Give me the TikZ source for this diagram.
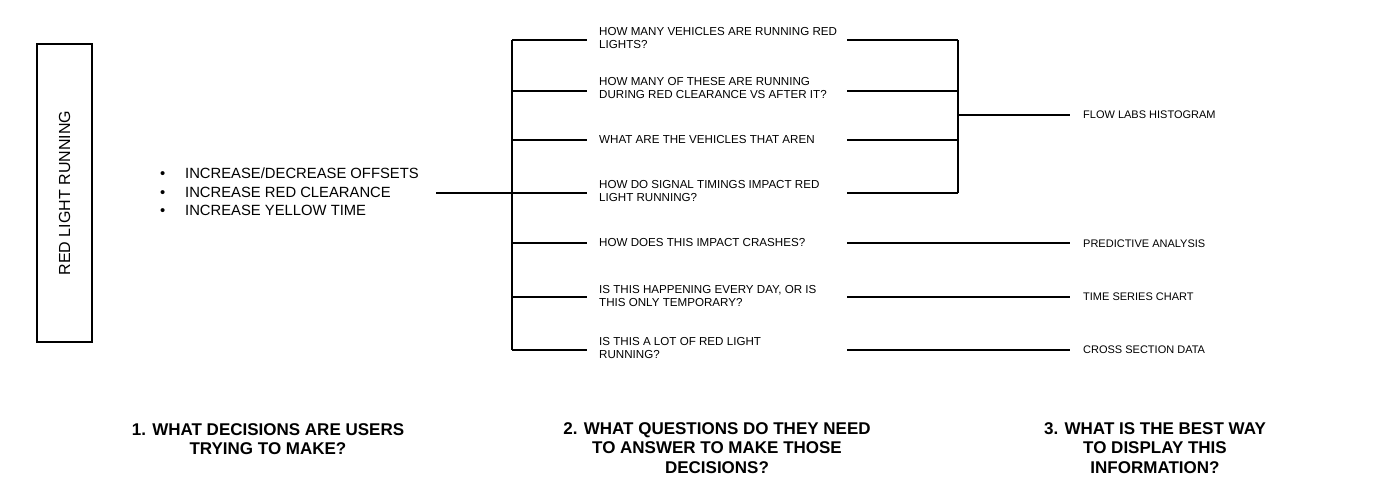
\documentclass[tikz,border=0pt]{standalone}
\usepackage{fontspec}
\setmainfont{Liberation Sans}
\begin{document}
\begin{tikzpicture}[x=1pt,y=-1pt,
  conn/.style={line width=1.2pt,black},
  thickconn/.style={line width=2pt,black},
  qtext/.style={anchor=west,align=left,inner sep=0pt,font=\fontsize{11.6}{13}\selectfont},
  rlabel/.style={anchor=west,inner sep=0pt,font=\fontsize{11}{13}\selectfont},
  heading/.style={align=center,inner sep=0pt,font=\fontsize{17}{19.5}\selectfont\bfseries},
]
\useasboundingbox (0,0) rectangle (1382,493);
% topic box
\node[draw,line width=2pt,rotate=90,minimum width=298,minimum height=55,inner sep=0pt,
      font=\fontsize{16}{18}\selectfont] (topic) at (64.5,193) {RED LIGHT RUNNING};
% decisions
\node[anchor=west,inner sep=0pt,align=left,font=\fontsize{14.8}{18.5}\selectfont] (dec) at (160,192)
  {\makebox[25pt][l]{\textbullet}INCREASE/DECREASE OFFSETS\\
   \makebox[25pt][l]{\textbullet}INCREASE RED CLEARANCE\\
   \makebox[25pt][l]{\textbullet}INCREASE YELLOW TIME};
\coordinate (d1) at (436,193);
\coordinate (tr) at (512,193);
\coordinate (trtop) at (512,40);
\coordinate (trbot) at (512,350);
\draw[thickconn] (d1) -- (tr);
\draw[thickconn] (trtop) -- (trbot);
% questions
\node[qtext] (q1) at (599,38) {HOW MANY VEHICLES ARE RUNNING RED\\LIGHTS?};
\node[qtext] (q2) at (599,88) {HOW MANY OF THESE ARE RUNNING\\DURING RED CLEARANCE VS AFTER IT?};
\node[qtext] (q3) at (599,140) {WHAT ARE THE VEHICLES THAT AREN};
\node[qtext] (q4) at (599,191) {HOW DO SIGNAL TIMINGS IMPACT RED\\LIGHT RUNNING?};
\node[qtext] (q5) at (599,243) {HOW DOES THIS IMPACT CRASHES?};
\node[qtext] (q6) at (599,296) {IS THIS HAPPENING EVERY DAY, OR IS\\THIS ONLY TEMPORARY?};
\node[qtext] (q7) at (599,348) {IS THIS A LOT OF RED LIGHT\\RUNNING?};
% left branches
\foreach \n/\y in {1/40,2/91,3/140,4/193,5/243,6/297,7/350}{
  \coordinate (bl\n) at (512,\y);
  \coordinate (br\n) at (587,\y);
  \coordinate (cl\n) at (847,\y);
  \draw[conn] (bl\n) -- (br\n);
}
% right bracket
\coordinate (rb1) at (958,40);
\coordinate (rb4) at (958,193);
\coordinate (rbm) at (958,115);
\foreach \n/\y in {1/40,2/91,3/140,4/193}{
  \draw[conn] (cl\n) -- (958,\y);
}
\draw[line width=1.6pt] (rb1) -- (rb4);
% answers
\node[rlabel] (a1) at (1083,115) {FLOW LABS HISTOGRAM};
\node[rlabel] (a2) at (1083,244) {PREDICTIVE ANALYSIS};
\node[rlabel] (a3) at (1083,297) {TIME SERIES CHART};
\node[rlabel] (a4) at (1083,350) {CROSS SECTION DATA};
\draw[thickconn] (rbm) -- (1070,115);
\draw[conn] (cl5) -- (1070,243);
\draw[conn] (cl6) -- (1070,297);
\draw[conn] (cl7) -- (1070,350);
% headings
\node[heading] (h1) at (268,439) {1. WHAT DECISIONS ARE USERS\\TRYING TO MAKE?};
\node[heading] (h2) at (717,448) {2. WHAT QUESTIONS DO THEY NEED\\TO ANSWER TO MAKE THOSE\\DECISIONS?};
\node[heading] (h3) at (1155,448) {3. WHAT IS THE BEST WAY\\TO DISPLAY THIS\\INFORMATION?};
\end{tikzpicture}
\end{document}
